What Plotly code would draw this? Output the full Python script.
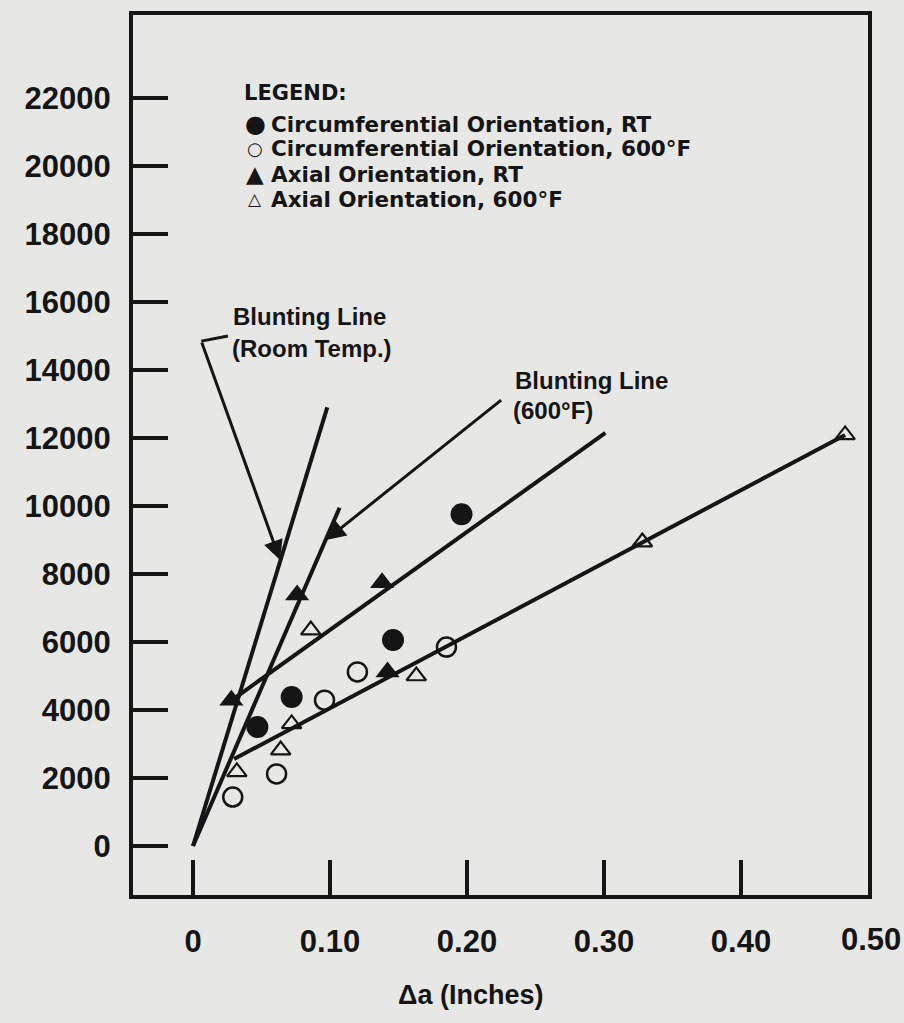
import plotly.graph_objects as go

# ---------------- data ----------------
circ_rt_x = [0.047, 0.072, 0.146, 0.196]
circ_rt_y = [3500, 4380, 6060, 9760]

circ_600_x = [0.029, 0.061, 0.096, 0.120, 0.185]
circ_600_y = [1440, 2120, 4290, 5120, 5850]

axial_rt_x = [0.028, 0.076, 0.138, 0.142]
axial_rt_y = [4290, 7380, 7740, 5120]

axial_600_x = [0.032, 0.064, 0.072, 0.086, 0.163, 0.328, 0.476]
axial_600_y = [2180, 2820, 3590, 6350, 5000, 8940, 12090]

blunt_rt_x = [0.0, 0.098]
blunt_rt_y = [0, 12900]
blunt_600_x = [0.0, 0.107]
blunt_600_y = [0, 9950]

fit_axial_rt_x = [0.027, 0.301]
fit_axial_rt_y = [4250, 12150]
fit_axial_600_x = [0.030, 0.476]
fit_axial_600_y = [2560, 12090]

x_tick_vals = [0, 0.1, 0.2, 0.3, 0.4]
x_tick_text = ["0", "0.10", "0.20", "0.30", "0.40"]
x_last_label = "0.50"
y_tick_vals = [0, 2000, 4000, 6000, 8000, 10000, 12000, 14000, 16000, 18000, 20000, 22000]
y_tick_text = [str(v) for v in y_tick_vals]

legend_labels = [
    "Circumferential Orientation, RT",
    "Circumferential Orientation, 600°F",
    "Axial Orientation, RT",
    "Axial Orientation, 600°F",
]
legend_glyphs = ["●", "○", "▲", "△"]

# ---------------- styling ----------------
INK = "#151515"
BG = "#e7e7e5"
FONT = "Liberation Sans, Arial, sans-serif"
WIDE = "DejaVu Sans, Liberation Sans, sans-serif"
X_RANGE = [-0.0438, 0.4927]
Y_RANGE = [-1441, 24441]

fig = go.Figure()

line_style = dict(color=INK, width=4)
for xs, ys in [(blunt_rt_x, blunt_rt_y), (blunt_600_x, blunt_600_y),
               (fit_axial_rt_x, fit_axial_rt_y), (fit_axial_600_x, fit_axial_600_y)]:
    fig.add_trace(go.Scatter(x=xs, y=ys, mode="lines", line=line_style,
                             showlegend=False, hoverinfo="skip"))

fig.add_trace(go.Scatter(x=circ_rt_x, y=circ_rt_y, mode="markers", name=legend_labels[0],
                         marker=dict(symbol="circle", size=22, color=INK), showlegend=False))
fig.add_trace(go.Scatter(x=circ_600_x, y=circ_600_y, mode="markers", name=legend_labels[1],
                         marker=dict(symbol="circle-open", size=19, color=INK,
                                     line=dict(width=2.5, color=INK)), showlegend=False))
fig.add_trace(go.Scatter(x=axial_rt_x, y=axial_rt_y, mode="markers", name=legend_labels[2],
                         marker=dict(symbol="triangle-up", size=21, color=INK), showlegend=False))
fig.add_trace(go.Scatter(x=axial_600_x, y=axial_600_y, mode="markers", name=legend_labels[3],
                         marker=dict(symbol="triangle-up-open", size=17, color=INK,
                                     line=dict(width=2.2, color=INK)), showlegend=False))

axis_common = dict(showline=True, linewidth=4, linecolor=INK, mirror=True,
                   ticks="inside", ticklen=35, tickwidth=4, tickcolor=INK,
                   showgrid=False, zeroline=False,
                   tickfont=dict(family=FONT, size=31, color=INK, weight="bold"))

fig.update_xaxes(range=X_RANGE, tickvals=x_tick_vals, ticktext=x_tick_text,
                 ticklabelstandoff=16, **axis_common)
fig.update_yaxes(range=Y_RANGE, tickvals=y_tick_vals, ticktext=y_tick_text,
                 ticklabelstandoff=12, **axis_common)

W, H = 904, 1023
L, R, T, B = 133, 36, 15, 128
pw, ph = W - L - R, H - T - B


def px(xp):
    return (xp - L) / pw


def py(yp):
    return (H - B - yp) / ph


annotations = []
bold = dict(color=INK, weight="bold")

# last x tick label (sits at the right frame edge)
annotations.append(dict(xref="paper", yref="paper", x=px(871), y=py(940),
                        text=x_last_label, showarrow=False, borderpad=0,
                        xanchor="center", yanchor="middle",
                        font=dict(size=31, family=FONT, **bold)))
# x axis title
annotations.append(dict(xref="paper", yref="paper", x=px(470), y=py(995),
                        text="Δa (Inches)", showarrow=False, xanchor="center", borderpad=0,
                        yanchor="middle", font=dict(size=27, family=FONT, **bold)))

# legend block
annotations.append(dict(xref="paper", yref="paper", x=px(243), y=py(93), text="LEGEND:",
                        showarrow=False, xanchor="left", yanchor="middle", borderpad=0,
                        font=dict(size=21, family=WIDE, **bold)))
row_y = [124, 149, 174, 199]
glyph_sizes = [24, 18, 23, 17]
for lab, g, yy, gs in zip(legend_labels, legend_glyphs, row_y, glyph_sizes):
    annotations.append(dict(xref="paper", yref="paper", x=px(255), y=py(yy), text=g,
                            showarrow=False, xanchor="center", yanchor="middle", borderpad=0,
                            font=dict(size=gs, family="DejaVu Sans", color=INK)))
    annotations.append(dict(xref="paper", yref="paper", x=px(270), y=py(yy), text=lab,
                            showarrow=False, xanchor="left", yanchor="middle", borderpad=0,
                            font=dict(size=21.5, family=WIDE, **bold)))

# blunting line labels
lab_font = dict(size=24, family=FONT, **bold)
annotations += [
    dict(x=0.0285, y=15560, text="Blunting Line", showarrow=False, xanchor="left",
         yanchor="middle", borderpad=0, font=lab_font),
    dict(x=0.0275, y=14620, text="(Room Temp.)", showarrow=False, xanchor="left",
         yanchor="middle", borderpad=0, font=lab_font),
    dict(x=0.2343, y=13680, text="Blunting Line", showarrow=False, xanchor="left",
         yanchor="middle", borderpad=0, font=lab_font),
    dict(x=0.2330, y=12820, text="(600°F)", showarrow=False, xanchor="left",
         yanchor="middle", borderpad=0, font=lab_font),
]
# pointer arrows
annotations += [
    dict(x=0.0635, y=8412, ax=0.0060, ay=14850, axref="x", ayref="y", text="",
         showarrow=True, arrowhead=2, arrowsize=1.3, arrowwidth=3, arrowcolor=INK),
    dict(x=0.0971, y=9000, ax=0.2260, ay=13150, axref="x", ayref="y", text="",
         showarrow=True, arrowhead=2, arrowsize=1.3, arrowwidth=3, arrowcolor=INK),
]

shapes = [dict(type="line", xref="x", yref="y", x0=0.0060, y0=14850, x1=0.0255, y1=15000,
               line=dict(color=INK, width=3))]

fig.update_layout(width=W, height=H, margin=dict(l=L, r=R, t=T, b=B, autoexpand=False),
                  paper_bgcolor=BG, plot_bgcolor=BG, showlegend=False,
                  annotations=annotations, shapes=shapes,
                  font=dict(family=FONT, color=INK))

fig.write_html("out.html", config={"displayModeBar": False},
               post_script="document.body.style.margin='0';document.body.style.overflow='hidden';")
